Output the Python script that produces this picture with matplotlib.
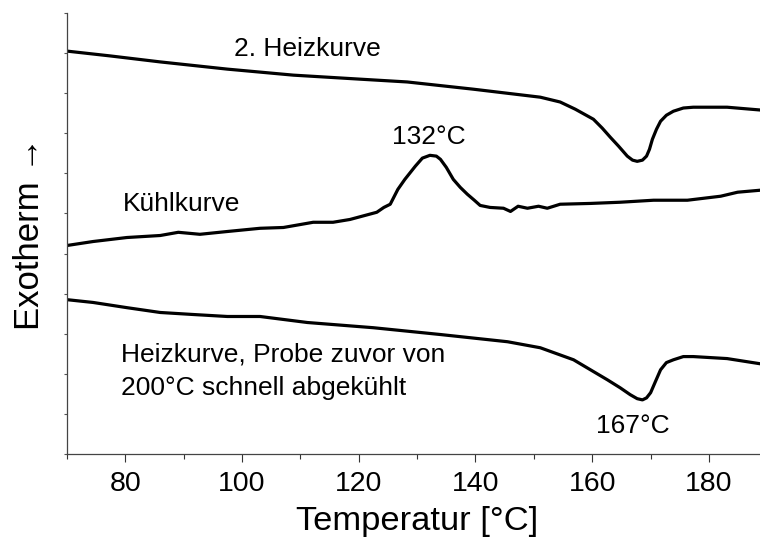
import numpy as np
import matplotlib
matplotlib.use('Agg')
import matplotlib.pyplot as plt
from matplotlib.ticker import MultipleLocator, NullFormatter

plt.rcParams['font.family'] = ['Liberation Sans', 'DejaVu Sans']

# 2. Heizkurve (top)
t_heat2 = [70.0, 77.4, 86.0, 97.5, 108.8, 120.2, 128.3, 139.6, 151.1, 154.5, 157.1, 160.2,
           161.7, 163.1, 164.5, 166.0, 166.9, 167.7, 168.6, 169.3, 169.8, 170.3, 171.0,
           171.7, 172.7, 173.9, 175.6, 177.3, 183.1, 188.8, 190.0]
y_heat2 = [10.05, 9.93, 9.78, 9.60, 9.45, 9.35, 9.28, 9.10, 8.90, 8.78, 8.60, 8.35,
           8.13, 7.90, 7.68, 7.43, 7.33, 7.30, 7.33, 7.43, 7.60, 7.85, 8.10,
           8.30, 8.45, 8.55, 8.63, 8.65, 8.65, 8.58, 8.57]

# Kuehlkurve (middle)
t_cool = [70.0, 74.5, 80.3, 86.0, 89.1, 92.8, 97.5, 103.1, 107.1, 112.2, 115.6, 118.5,
          123.1, 124.3, 125.4, 126.7, 127.9, 129.7, 130.9, 132.2, 133.3, 134.0, 135.0,
          136.2, 137.4, 138.6, 139.8, 140.8, 142.5, 144.8, 146.0, 147.3, 148.9, 150.8,
          152.3, 154.5, 159.7, 164.8, 170.5, 176.3, 182.0, 184.9, 188.8, 190.0]
y_cool = [5.20, 5.30, 5.40, 5.45, 5.53, 5.48, 5.55, 5.63, 5.65, 5.78, 5.78, 5.85,
          6.03, 6.15, 6.23, 6.60, 6.85, 7.18, 7.38, 7.45, 7.43, 7.35, 7.15,
          6.85, 6.65, 6.48, 6.33, 6.20, 6.15, 6.13, 6.05, 6.18, 6.13, 6.18,
          6.13, 6.23, 6.25, 6.28, 6.33, 6.33, 6.43, 6.53, 6.58, 6.59]

# Heizkurve nach schnellem Abkuehlen (bottom)
t_heat1 = [70.0, 74.5, 80.3, 86.0, 91.6, 97.5, 103.1, 111.2, 122.5, 134.0, 145.5, 151.1,
           156.8, 159.7, 162.6, 164.8, 166.5, 167.7, 168.6, 169.3, 170.0, 170.8, 171.7,
           172.7, 173.9, 175.6, 177.3, 183.1, 188.8, 190.0]
y_heat1 = [3.85, 3.78, 3.65, 3.53, 3.48, 3.43, 3.43, 3.28, 3.15, 2.98, 2.80, 2.65,
           2.35, 2.10, 1.85, 1.65, 1.48, 1.38, 1.35, 1.40, 1.53, 1.80, 2.10,
           2.28, 2.35, 2.43, 2.43, 2.38, 2.25, 2.22]

W, H = 760, 544
fig = plt.figure(figsize=(W / 100, H / 100), dpi=100)
left, right, bottom, top = 66.8, 767.4, 454, 13
ax = fig.add_axes([left / W, (H - bottom) / H, (right - left) / W, (bottom - top) / H])

for t, y in [(t_heat2, y_heat2), (t_cool, y_cool), (t_heat1, y_heat1)]:
    ax.plot(t, y, color='black', lw=2.3, solid_joinstyle='round', solid_capstyle='round')

ax.set_xlim(70, 190)
ax.set_ylim(0, 11)
ax.set_xticks([80, 100, 120, 140, 160, 180])
ax.xaxis.set_minor_locator(MultipleLocator(10))
ax.yaxis.set_major_locator(MultipleLocator(1))
ax.yaxis.set_major_formatter(NullFormatter())
ax.tick_params(axis='x', which='major', direction='out', length=6, width=0.8,
               labelsize=20.5, pad=6, color='#333333')
ax.tick_params(axis='x', which='minor', direction='out', length=3.5, width=0.8, color='#333333')
ax.tick_params(axis='y', which='major', direction='out', length=2.5, width=0.8, color='#555555')

for s in ['top', 'right']:
    ax.spines[s].set_visible(False)
for s in ['left', 'bottom']:
    ax.spines[s].set_color('#444444')
    ax.spines[s].set_linewidth(0.9)

ax.set_xlabel('Temperatur [°C]', fontsize=24.8, labelpad=7)
ax.set_ylabel('Exotherm →', fontsize=25, labelpad=9)

fs = 19
ax.text(111.25, 9.93, '2. Heizkurve', fontsize=fs, ha='center', va='baseline')
ax.text(132.0, 7.73, '132°C', fontsize=fs, ha='center', va='baseline')
ax.text(79.6, 6.06, 'Kühlkurve', fontsize=fs, ha='left', va='baseline')
ax.text(79.3, 2.31, 'Heizkurve, Probe zuvor von', fontsize=fs, ha='left', va='baseline')
ax.text(79.3, 1.48, '200°C schnell abgekühlt', fontsize=fs, ha='left', va='baseline')
ax.text(166.95, 0.53, '167°C', fontsize=fs, ha='center', va='baseline')

fig.savefig('out.png', dpi=100)
